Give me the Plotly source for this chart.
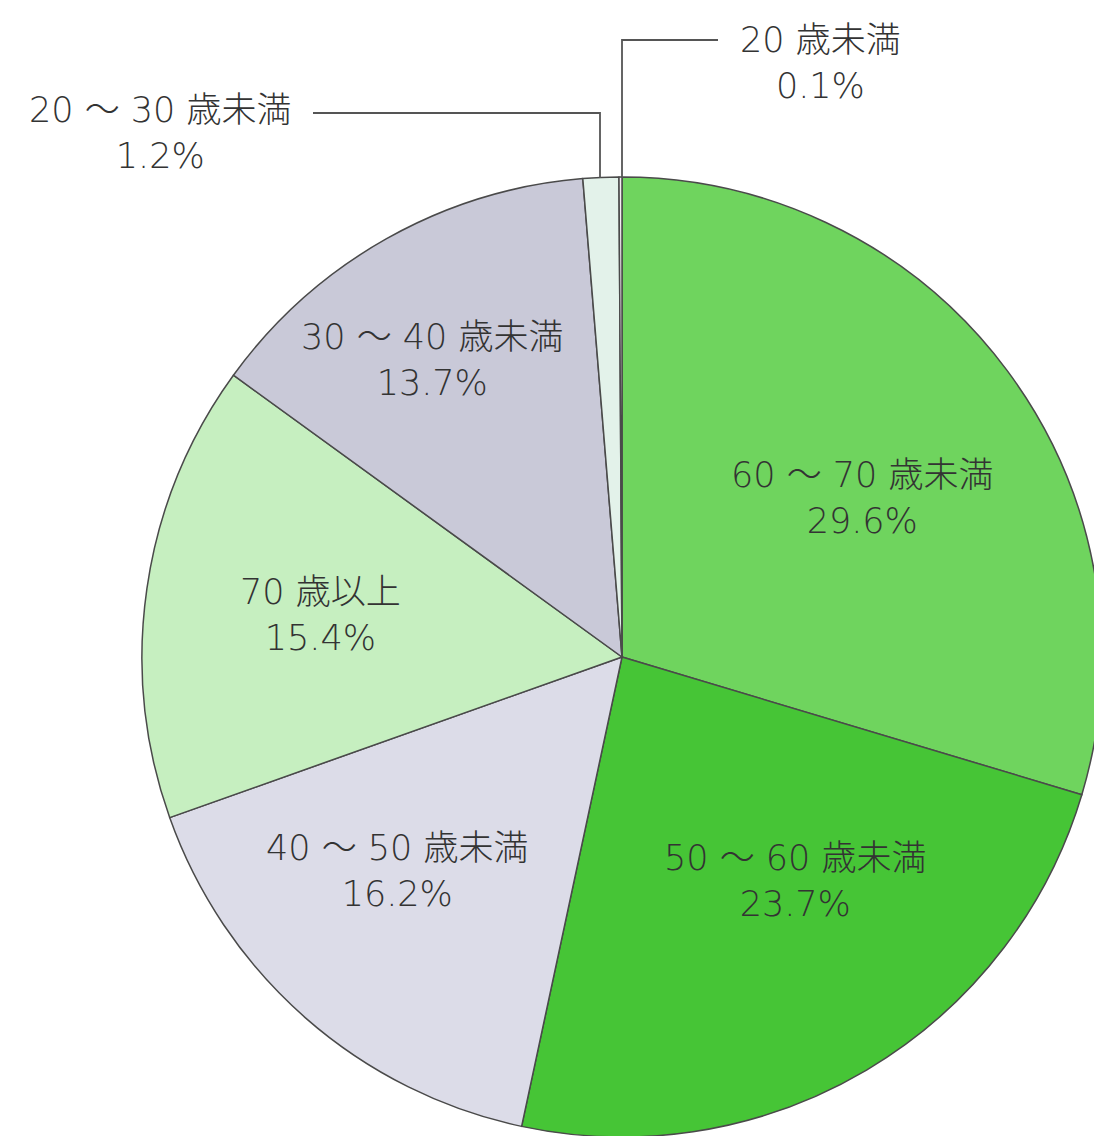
import plotly.graph_objects as go

# Data (clockwise from 12 o'clock)
labels = ["60 ～ 70 歳未満", "50 ～ 60 歳未満", "40 ～ 50 歳未満", "70 歳以上",
          "30 ～ 40 歳未満", "20 ～ 30 歳未満", "20 歳未満"]
values = [29.6, 23.7, 16.2, 15.4, 13.7, 1.2, 0.1]
colors = ["#6fd45e", "#46c536", "#dcdce8", "#c6efc0", "#c9c9d8", "#e3f2ea", "#f4eef2"]

# label anchor positions (pixels as seen in the page)
label_px = [(862, 498), (795, 881), (397, 871), (320, 615), (432, 360), (160, 133), (820, 63)]

W, H = 1102, 1136
OFF = 8  # page body margin
R = 480
CX, CY = 622 - OFF, 657 - OFF


def px2paper(x, y):
    return (x - OFF) / W, 1 - (y - OFF) / H


fig = go.Figure()
fig.add_trace(go.Pie(
    labels=labels, values=values, sort=False, direction="clockwise", rotation=0,
    marker=dict(colors=colors, line=dict(color="#4a4a4a", width=1.5)),
    textinfo="none", hoverinfo="label+percent", showlegend=False,
    domain=dict(x=[(CX - R) / W, (CX + R) / W], y=[1 - (CY + R) / H, 1 - (CY - R) / H]),
))

font = dict(family="DejaVu Sans, Noto Sans CJK JP", size=35, color="#333333", weight=300)
for lab, val, (px, py) in zip(labels, values, label_px):
    x, y = px2paper(px, py)
    fig.add_annotation(x=x, y=y, xref="paper", yref="paper",
                       text=f"{lab}<br>{val:.1f}%", showarrow=False, font=font,
                       align="center", xanchor="center", yanchor="middle")


def pline(points):
    return "M " + " L ".join("{},{}".format(*px2paper(x, y)) for x, y in points)


line_style = dict(color="#555555", width=1.8)
fig.add_shape(type="path", xref="paper", yref="paper",
              path=pline([(622, 178), (622, 40), (718, 40)]), line=line_style)
fig.add_shape(type="path", xref="paper", yref="paper",
              path=pline([(313, 113), (600, 113), (600, 178)]), line=line_style)

fig.update_layout(width=W, height=H, margin=dict(l=0, r=0, t=0, b=0),
                  paper_bgcolor="white", plot_bgcolor="white")
fig.write_html("out.html")
